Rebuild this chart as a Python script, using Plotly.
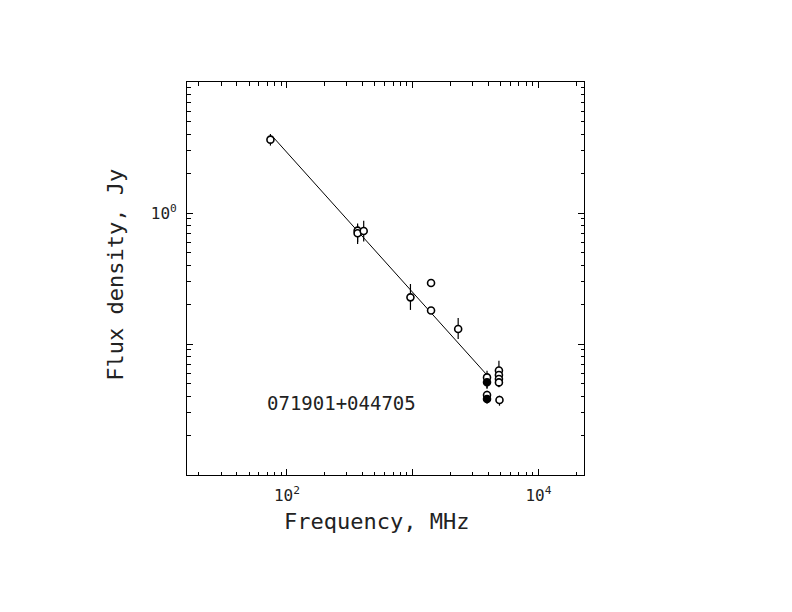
# radio spectrum of 071901+044705, flux density vs frequency on log-log axes
import plotly.graph_objects as go

# measured points (MHz, Jy)
freq = [74, 365, 365, 408, 960, 1400, 1400, 2300,
        3900, 3900, 3900, 3900, 4850, 4850, 4850, 4850, 4900]
flux = [3.63, 0.733, 0.700, 0.729, 0.227, 0.292, 0.180, 0.130,
        0.0556, 0.0510, 0.0408, 0.0380, 0.0628, 0.0580, 0.0540, 0.0509, 0.0374]
# upper / lower ends of the error bars (Jy)
flux_hi = [4.01, 0.833, 0.80, 0.873, 0.287, 0.300, 0.190, 0.158,
           0.0625, 0.058, 0.0440, 0.041, 0.0746, 0.066, 0.060, 0.056, 0.0403]
flux_lo = [3.27, 0.580, 0.60, 0.607, 0.182, 0.285, 0.170, 0.109,
           0.0456, 0.046, 0.0356, 0.035, 0.0467, 0.050, 0.049, 0.047, 0.0338]
filled = [False, False, False, False, False, False, False, False,
          False, True, False, True, False, False, False, False, False]

# power-law fit endpoints
fit_freq = [76, 3940]
fit_flux = [3.89, 0.0573]

source_name = "071901+044705"

# tick positions
x_major = [100, 1000, 10000]
x_major_text = ["10<sup>2</sup>", "", "10<sup>4</sup>"]
y_major = [0.1, 1, 10]
y_major_text = ["", "10<sup>0</sup>", ""]
x_minor = [m * d for d in (10, 100, 1000, 10000) for m in range(2, 10)]
y_minor = [m * d for d in (0.01, 0.1, 1) for m in range(2, 10)]

FONT = "DejaVu Sans Mono"
INK = "#222222"

fig = go.Figure()

fig.add_trace(go.Scatter(
    x=fit_freq, y=fit_flux, mode="lines",
    line=dict(color="black", width=1),
    hoverinfo="skip", showlegend=False,
))

fig.add_trace(go.Scatter(
    x=freq, y=flux, mode="markers",
    marker=dict(symbol="circle", size=7,
                color=["black" if f else "white" for f in filled],
                line=dict(color="black", width=1.6)),
    error_y=dict(type="data", symmetric=False,
                 array=[h - f for h, f in zip(flux_hi, flux)],
                 arrayminus=[f - l for f, l in zip(flux, flux_lo)],
                 color="black", thickness=1.2, width=0),
    showlegend=False,
))

axis_common = dict(
    type="log", showgrid=False, zeroline=False,
    showline=True, linecolor="black", linewidth=1, mirror="ticks",
    ticks="inside", ticklen=6, tickwidth=1, tickcolor="black",
    tickmode="array",
    tickfont=dict(family=FONT, size=16, color=INK),
)

fig.update_xaxes(
    **axis_common,
    range=[1.206, 4.362],
    tickvals=x_major, ticktext=x_major_text,
    ticklabelstandoff=6,
    minor=dict(tickmode="array", tickvals=x_minor, ticks="inside",
               ticklen=3.5, tickwidth=1, tickcolor="black"),
)
fig.update_yaxes(
    **axis_common,
    range=[-2, 1],
    tickvals=y_major, ticktext=y_major_text,
    ticklabelstandoff=6,
    minor=dict(tickmode="array", tickvals=y_minor, ticks="inside",
               ticklen=3.5, tickwidth=1, tickcolor="black"),
)

fig.add_annotation(text="Frequency, MHz", xref="paper", yref="paper",
                   x=0.4765, y=-0.1195, xanchor="center", yanchor="middle",
                   showarrow=False,
                   font=dict(family=FONT, size=22, color=INK))
fig.add_annotation(text="Flux density, Jy", xref="paper", yref="paper",
                   x=-0.180, y=0.5085, xanchor="center", yanchor="middle",
                   showarrow=False, textangle=-90,
                   font=dict(family=FONT, size=22, color=INK))
fig.add_annotation(text=source_name, xref="paper", yref="paper",
                   x=0.197, y=0.183, xanchor="left", yanchor="middle",
                   showarrow=False,
                   font=dict(family=FONT, size=19, color=INK))

# page body adds an 8 px margin, so the margins are offset by it
fig.update_layout(
    width=792, height=612,
    margin=dict(l=179, r=216, t=74, b=145),
    paper_bgcolor="white", plot_bgcolor="white",
)

fig.write_html("out.html")
